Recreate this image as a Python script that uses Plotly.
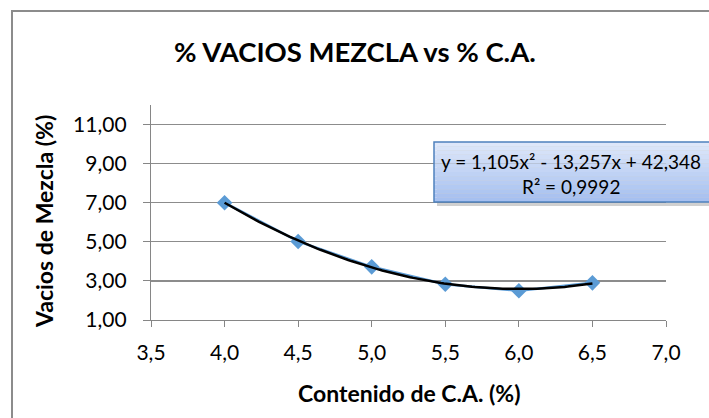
import numpy as np
import plotly.graph_objects as go

# Data
contenido_ca = [4.0, 4.5, 5.0, 5.5, 6.0, 6.5]
vacios_mezcla = [7.00, 5.02, 3.72, 2.83, 2.50, 2.90]
trend_coef = [1.105, -13.257, 42.348]   # y = 1,105x² - 13,257x + 42,348
equation_text = "y = 1,105x² - 13,257x + 42,348"
r2_text = "R² = 0,9992"
x_ticks = [3.5, 4.0, 4.5, 5.0, 5.5, 6.0, 6.5, 7.0]
x_tick_labels = ["3,5", "4,0", "4,5", "5,0", "5,5", "6,0", "6,5", "7,0"]
y_ticks = [1, 3, 5, 7, 9, 11]
y_tick_labels = ["1,00", "3,00", "5,00", "7,00", "9,00", "11,00"]

W, H = 709, 418
# plot area in page pixels
X0, X1, Y0, Y1 = 151, 666, 105, 320
L, R, T, B = X0, W - X1, Y0, H - Y1
PW, PH = X1 - X0, Y1 - Y0

def px(xp):  # pixel x -> paper
    return (xp - X0) / PW

def py(yp):  # pixel y -> paper
    return (Y1 - yp) / PH

FONT = "Lato"

xt = np.linspace(min(contenido_ca), max(contenido_ca), 120)
yt = np.polyval(trend_coef, xt)

fig = go.Figure()
fig.add_trace(go.Scatter(
    x=contenido_ca, y=vacios_mezcla, mode="lines+markers",
    line=dict(color="#5b9bd5", width=2.5),
    marker=dict(symbol="diamond", size=12, color="#5b9bd5"),
    showlegend=False, hoverinfo="skip"))
fig.add_trace(go.Scatter(
    x=xt, y=yt, mode="lines",
    line=dict(color="#000000", width=2.5),
    showlegend=False, hoverinfo="skip"))

shapes = []
# chart outer border (left and top edges visible)
shapes.append(dict(type="line", xref="paper", yref="paper",
                   x0=px(12), x1=px(12), y0=py(11), y1=py(440),
                   line=dict(color="#8c8c8c", width=2)))
shapes.append(dict(type="line", xref="paper", yref="paper",
                   x0=px(11), x1=px(740), y0=py(11), y1=py(11),
                   line=dict(color="#8c8c8c", width=2)))
# equation box shadow
shapes.append(dict(type="rect", xref="paper", yref="paper",
                   x0=px(437), x1=px(740), y0=py(206), y1=py(146),
                   fillcolor="rgba(120,120,120,0.35)", line=dict(width=0), layer="above"))
# equation box gradient
bx0, bx1, by0, by1 = 434, 740, 142, 202
n = 14
c_top = np.array([222, 231, 250])
c_bot = np.array([166, 192, 240])
for i in range(n):
    t = i / (n - 1)
    c = (c_top * (1 - t) + c_bot * t).astype(int)
    shapes.append(dict(type="rect", xref="paper", yref="paper",
                       x0=px(bx0), x1=px(bx1),
                       y0=py(by0 + (by1 - by0) * (i + 1) / n),
                       y1=py(by0 + (by1 - by0) * i / n),
                       fillcolor="rgb(%d,%d,%d)" % tuple(c),
                       line=dict(width=0), layer="above"))
shapes.append(dict(type="rect", xref="paper", yref="paper",
                   x0=px(bx0), x1=px(bx1), y0=py(by1), y1=py(by0),
                   fillcolor="rgba(0,0,0,0)", line=dict(color="#4f81bd", width=1.5),
                   layer="above"))

annotations = [
    dict(text="<b>% VACIOS MEZCLA vs % C.A.</b>", xref="paper", yref="paper",
         x=px(355), y=py(51), showarrow=False, xanchor="center", yanchor="middle",
         font=dict(family=FONT, size=27.5, color="#000000")),
    dict(text="<b>Contenido de C.A. (%)</b>", xref="paper", yref="paper",
         x=px(409), y=py(393), showarrow=False, xanchor="center", yanchor="middle",
         font=dict(family=FONT, size=23, color="#000000")),
    dict(text="<b>Vacios de Mezcla (%)</b>", xref="paper", yref="paper",
         x=px(44), y=py(222), showarrow=False, xanchor="center", yanchor="middle",
         textangle=-90, font=dict(family=FONT, size=23, color="#000000")),
    dict(text=equation_text, xref="paper", yref="paper",
         x=px(571), y=py(161), showarrow=False, xanchor="center", yanchor="middle",
         font=dict(family=FONT, size=19, color="#000000")),
    dict(text=r2_text, xref="paper", yref="paper",
         x=px(571), y=py(186), showarrow=False, xanchor="center", yanchor="middle",
         font=dict(family=FONT, size=19, color="#000000")),
]

fig.update_layout(
    width=W, height=H,
    margin=dict(l=L, r=R, t=T, b=B, pad=0),
    paper_bgcolor="white", plot_bgcolor="white",
    shapes=shapes, annotations=annotations,
    font=dict(family=FONT, color="#000000"),
)
fig.update_xaxes(
    range=[3.5, 7.0], tickvals=x_ticks, ticktext=x_tick_labels,
    showgrid=False, zeroline=False,
    showline=True, linecolor="#868686", linewidth=1.2,
    ticks="outside", ticklen=6, tickcolor="#868686",
    ticklabelstandoff=8,
    tickfont=dict(family=FONT, size=21, color="#000000"),
)
fig.update_yaxes(
    range=[1, 12], tickvals=y_ticks, ticktext=y_tick_labels,
    showgrid=True, gridcolor="#8c8c8c", gridwidth=1.2, zeroline=False,
    showline=True, linecolor="#868686", linewidth=1.2,
    ticks="outside", ticklen=7, tickcolor="#868686",
    ticklabelstandoff=12,
    tickfont=dict(family=FONT, size=21, color="#000000"),
)

page_css = ("document.body.style.margin='0';"
            "document.body.style.overflow='hidden';"
            "document.documentElement.style.overflow='hidden';")
fig.write_html("out.html", post_script=page_css,
               config={"displayModeBar": False, "staticPlot": True})
